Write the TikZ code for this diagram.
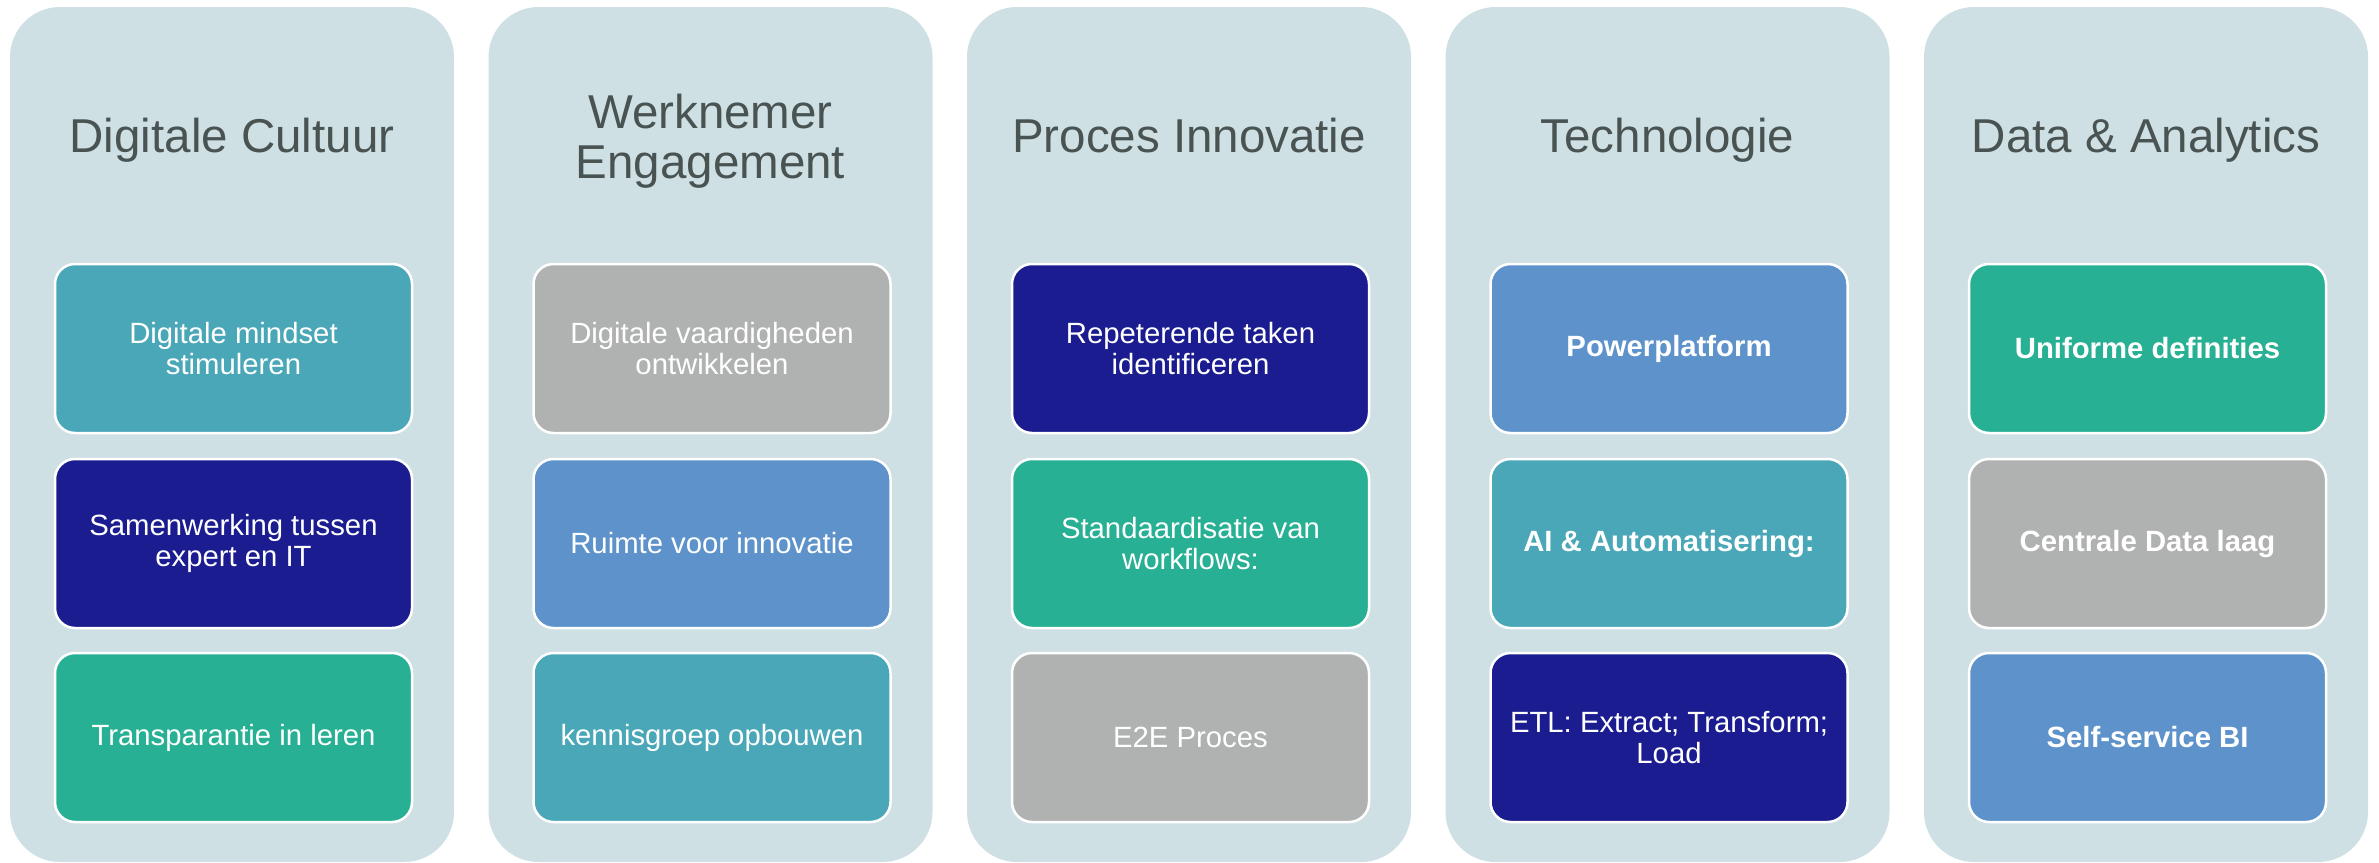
\documentclass[tikz,border=0pt]{standalone}
\usepackage{fontspec}
\setmainfont{Liberation Sans}
\begin{document}
\definecolor{colbg}{HTML}{CFE0E5}
\definecolor{cteal}{HTML}{4AA7B8}
\definecolor{cnavy}{HTML}{1A1C8F}
\definecolor{cgreen}{HTML}{27B093}
\definecolor{cgray}{HTML}{B0B2B1}
\definecolor{cblue}{HTML}{5D92CA}
\definecolor{ctitle}{HTML}{495352}
\tikzset{
  column/.style={fill=colbg, draw=none, rounded corners=50pt, minimum width=444pt, minimum height=855pt, inner sep=0pt},
  title/.style={text=ctitle, align=center, inner sep=0pt, font=\fontsize{47.5}{50}\selectfont},
  item/.style={draw=white, line width=2.5pt, rounded corners=20pt, minimum width=357pt, minimum height=169pt, inner sep=0pt, text=white, align=center, font=\fontsize{29.3}{31}\selectfont},
  itemb/.style={item, font=\fontsize{29.3}{31}\selectfont\bfseries},
}
\begin{tikzpicture}[x=1pt,y=-1pt]
\useasboundingbox (0,0) rectangle (2379,862);
% columns
\node[column] (c1) at (232,434.5) {};
\node[column] (c2) at (710.5,434.5) {};
\node[column] (c3) at (1189,434.5) {};
\node[column] (c4) at (1667.5,434.5) {};
\node[column] (c5) at (2146,434.5) {};
% titles
\node[title, anchor=base] (t1) at (232,152) {Digitale Cultuur};
\node[title] (t2) at (710.5,141) {Werknemer\\Engagement};
\node[title, anchor=base] (t3) at (1189,152) {Proces Innovatie};
\node[title, anchor=base] (t4) at (1667.5,152) {Technologie};
\node[title, anchor=base] (t5) at (2146,152) {Data \& Analytics};
% column 1
\node[item, fill=cteal] (a1) at (233.5,348.5) {Digitale mindset\\stimuleren};
\node[item, fill=cnavy] (a2) at (233.5,543.5) {Samenwerking tussen\\expert en IT};
\node[item, fill=cgreen] (a3) at (233.5,737.5) {Transparantie in leren};
% column 2
\node[item, fill=cgray] (b1) at (712,348.5) {Digitale vaardigheden\\ontwikkelen};
\node[item, fill=cblue] (b2) at (712,543.5) {Ruimte voor innovatie};
\node[item, fill=cteal] (b3) at (712,737.5) {kennisgroep opbouwen};
% column 3
\node[item, fill=cnavy] (p1) at (1190.5,348.5) {Repeterende taken\\identificeren};
\node[item, fill=cgreen] (p2) at (1190.5,543.5) {Standaardisatie van\\workflows:};
\node[item, fill=cgray] (p3) at (1190.5,737.5) {E2E Proces};
% column 4
\node[itemb, fill=cblue] (q1) at (1669,348.5) {Powerplatform};
\node[itemb, fill=cteal] (q2) at (1669,543.5) {AI \& Automatisering:};
\node[item, fill=cnavy] (q3) at (1669,737.5) {ETL: Extract; Transform;\\Load};
% column 5
\node[itemb, fill=cgreen] (r1) at (2147.5,348.5) {Uniforme definities};
\node[itemb, fill=cgray] (r2) at (2147.5,543.5) {Centrale Data laag};
\node[itemb, fill=cblue] (r3) at (2147.5,737.5) {Self-service BI};
\end{tikzpicture}
\end{document}
